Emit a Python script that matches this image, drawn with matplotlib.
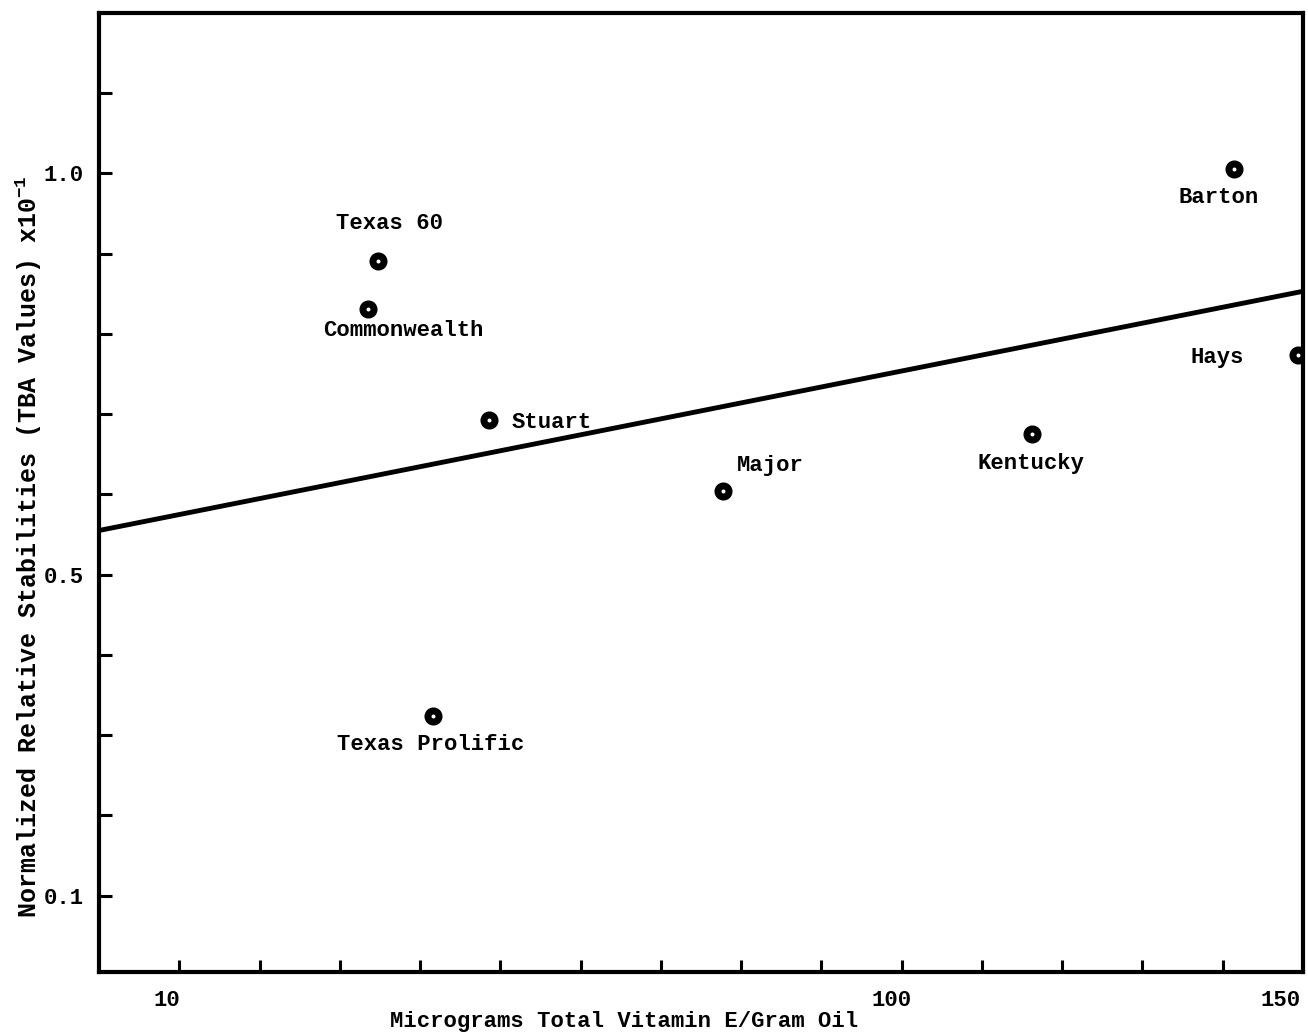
# scatter of oil stability vs vitamin E, typewriter-style scan look
import numpy as np
import matplotlib
matplotlib.use('Agg')
import matplotlib.pyplot as plt
from matplotlib.ticker import FixedLocator
from matplotlib.transforms import ScaledTranslation

# DATA
varieties = ['Texas 60', 'Commonwealth', 'Stuart', 'Texas Prolific',
             'Major', 'Kentucky', 'Barton', 'Hays']
vit_e = [34.8, 33.5, 48.6, 41.6, 77.8, 116.2, 141.4, 149.4]
stability = [0.891, 0.831, 0.693, 0.324, 0.604, 0.675, 1.005, 0.773]

# label anchor points (data units) and alignment
label_x = [36.2, 37.9, 51.4, 41.3, 83.6, 116.1, 139.5, 139.3]
label_y = [0.937, 0.804, 0.689, 0.289, 0.636, 0.638, 0.970, 0.770]
label_ha = ['center', 'center', 'left', 'center', 'center', 'center', 'center', 'center']

# regression line endpoints
fit_x = [0, 150]
fit_y = [0.555, 0.853]

x_major = [10, 100, 150]
x_minor = [20, 30, 40, 50, 60, 70, 80, 90, 110, 120, 130, 140]
y_major = [0.1, 0.5, 1.0]
y_minor = [0.2, 0.3, 0.4, 0.6, 0.7, 0.8, 0.9, 1.1]

FONT = 'Liberation Mono'
FS = 16
WT = 'bold'

fig = plt.figure(figsize=(13.08, 10.36), dpi=100)
ax = fig.add_axes([0.0757, 0.0618, 0.9205, 0.9259])

ax.plot(fit_x, fit_y, color='black', lw=3.5, solid_capstyle='butt')
ax.plot(vit_e, stability, linestyle='none', marker='o', ms=8, mew=5,
        mfc='white', mec='black', clip_on=True)

for name, lx, ly, ha in zip(varieties, label_x, label_y, label_ha):
    ax.text(lx, ly, name, ha=ha, va='center', fontsize=FS, family=FONT, weight=WT)

ax.set_xlim(0, 150)
ax.set_ylim(0.005, 1.2)

ax.xaxis.set_major_locator(FixedLocator(x_major))
ax.xaxis.set_minor_locator(FixedLocator(x_minor))
ax.yaxis.set_major_locator(FixedLocator(y_major))
ax.yaxis.set_minor_locator(FixedLocator(y_minor))
ax.set_xticklabels([str(v) for v in x_major])
ax.set_yticklabels(['0.1', '0.5', '1.0'])

ax.tick_params(which='both', direction='in', width=2.2, color='black')
ax.tick_params(axis='x', which='both', length=8.5, pad=13)
ax.tick_params(axis='y', which='both', length=9, pad=11)
for lab in ax.get_xticklabels() + ax.get_yticklabels():
    lab.set_family(FONT)
    lab.set_fontsize(FS)
    lab.set_weight(WT)
# shift x tick labels a little left like the original (150 sits inside the edge)
for lab, dx in zip(ax.get_xticklabels(), [-12, -10, -22]):
    lab.set_transform(lab.get_transform() + ScaledTranslation(dx/100, 0, fig.dpi_scale_trans))

for sp in ax.spines.values():
    sp.set_linewidth(3)

ax.set_xlabel('Micrograms Total Vitamin E/Gram Oil', family=FONT, fontsize=FS, weight=WT)
ax.xaxis.set_label_coords(0.436, -0.041)
ax.set_ylabel(r'Normalized Relative Stabilities (TBA Values) x10$^\mathregular{-1}$',
              family=FONT, fontsize=18, weight=WT)
ax.yaxis.set_label_coords(-0.046, 0.443)

fig.savefig('out.png', dpi=100)
